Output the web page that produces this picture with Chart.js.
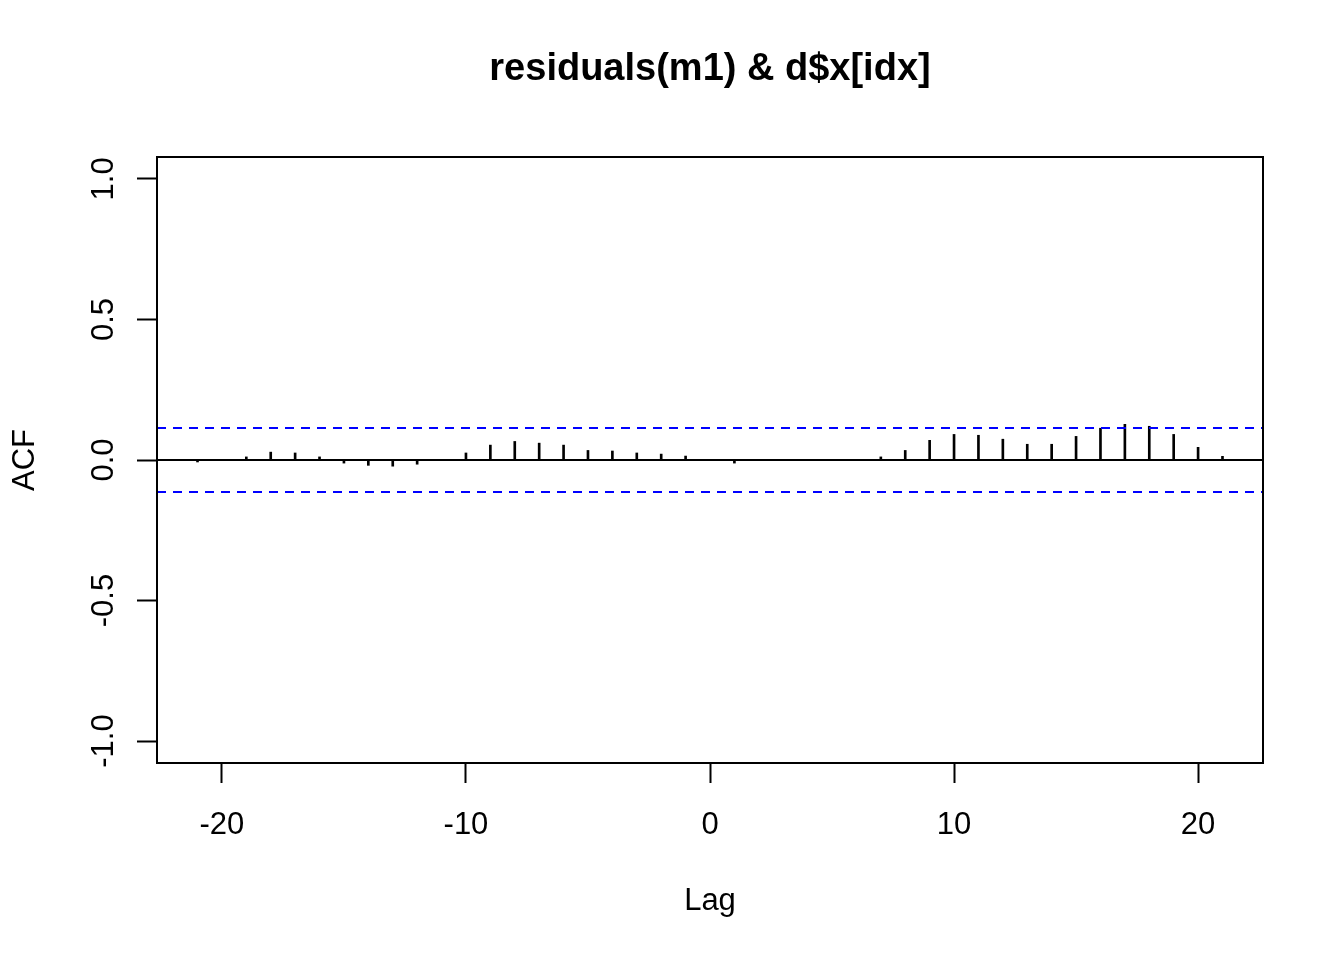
<!DOCTYPE html>
<html>
<head>
<meta charset="utf-8">
<script src="https://cdn.jsdelivr.net/npm/chart.js@4/dist/chart.umd.min.js"></script>
<style>
  html, body { margin: 0; padding: 0; background: #fff; }
  #wrap { width: 1344px; height: 960px; }
</style>
</head>
<body>
<div id="wrap"><canvas id="chart" width="1344" height="960"></canvas></div>
<script>
const lags = [-21, -20, -19, -18, -17, -16, -15, -14, -13, -12, -11, -10, -9, -8, -7, -6, -5, -4, -3, -2, -1,
  0, 1, 2, 3, 4, 5, 6, 7, 8, 9, 10, 11, 12, 13, 14, 15, 16, 17, 18, 19, 20, 21];
const acf = [-0.007, 0.000, 0.011, 0.028, 0.025, 0.011, -0.011, -0.019, -0.022, -0.015, 0.000, 0.025, 0.053,
  0.066, 0.060, 0.053, 0.034, 0.032, 0.025, 0.021, 0.014,
  0.000, -0.011, 0.000, 0.000, 0.000, 0.000, 0.000, 0.011, 0.034, 0.070, 0.091, 0.088, 0.074, 0.056,
  0.056, 0.084, 0.113, 0.127, 0.120, 0.091, 0.045, 0.013];
const ciLevel = 0.1135;
const xTicks = [-20, -10, 0, 10, 20];
const yTicks = [-1, -0.5, 0, 0.5, 1];
const yTickLabels = ['-1.0', '-0.5', '0.0', '0.5', '1.0'];
const xLimits = [-22.66, 22.66];
const yLimits = [-1.078, 1.078];

const fontFamily = "'Liberation Sans', Arial, sans-serif";

const bars = lags.map((lag, i) => ({ x: lag, y: acf[i] }));
const hline = (v) => xLimits.map(x => ({ x: x, y: v }));

const rPlotStyle = {
  id: 'rPlotStyle',
  afterDraw(chart) {
    const ctx = chart.ctx;
    const area = chart.chartArea;
    const yScale = chart.scales.y;
    ctx.save();
    // box around the plot region
    ctx.strokeStyle = '#000';
    ctx.lineWidth = 2;
    ctx.strokeRect(area.left, area.top, area.right - area.left, area.bottom - area.top);
    // rotated y tick labels
    ctx.fillStyle = '#000';
    ctx.font = '31px ' + fontFamily;
    ctx.textAlign = 'center';
    ctx.textBaseline = 'alphabetic';
    yTicks.forEach((v, i) => {
      const py = yScale.getPixelForValue(v);
      ctx.save();
      ctx.translate(113, py);
      ctx.rotate(-Math.PI / 2);
      ctx.fillText(yTickLabels[i], 0, 0);
      ctx.restore();
    });
    ctx.restore();
  }
};

const config = {
  type: 'bar',
  data: {
    datasets: [
      {
        type: 'bar',
        label: 'ACF',
        data: bars,
        backgroundColor: '#000',
        barThickness: 2,
        order: 3,
      },
      {
        type: 'line',
        label: 'zero',
        data: hline(0),
        borderColor: '#000',
        borderWidth: 2,
        pointRadius: 0,
        order: 2,
      },
      {
        type: 'line',
        label: 'upper',
        data: hline(ciLevel),
        borderColor: '#0000ff',
        borderWidth: 2,
        borderDash: [9, 7],
        pointRadius: 0,
        order: 1,
      },
      {
        type: 'line',
        label: 'lower',
        data: hline(-ciLevel),
        borderColor: '#0000ff',
        borderWidth: 2,
        borderDash: [9, 7],
        pointRadius: 0,
        order: 1,
      },
    ],
  },
  options: {
    responsive: false,
    animation: false,
    layout: { padding: { left: 0, right: 81, top: 0, bottom: 0 } },
    plugins: {
      legend: { display: false },
      tooltip: { enabled: false },
      title: {
        display: true,
        text: 'residuals(m1) & d$x[idx]',
        fullSize: false,
        color: '#000',
        font: { family: fontFamily, size: 38, weight: 'bold', lineHeight: 1 },
        padding: { top: 51, bottom: 68 },
      },
    },
    scales: {
      x: {
        type: 'linear',
        min: xLimits[0],
        max: xLimits[1],
        offset: false,
        afterBuildTicks: (scale) => { scale.ticks = xTicks.map(v => ({ value: v })); },
        afterFit: (scale) => { scale.height = 197; },
        grid: {
          display: true,
          offset: false,
          drawOnChartArea: false,
          drawTicks: true,
          tickLength: 20,
          tickWidth: 2,
          tickColor: '#000',
        },
        border: { display: true, color: '#000', width: 2 },
        ticks: {
          color: '#000',
          padding: 24,
          maxRotation: 0,
          font: { family: fontFamily, size: 31 },
        },
        title: {
          display: true,
          text: 'Lag',
          color: '#000',
          font: { family: fontFamily, size: 31 },
          padding: { top: 0, bottom: 40 },
        },
      },
      y: {
        type: 'linear',
        min: yLimits[0],
        max: yLimits[1],
        afterBuildTicks: (scale) => { scale.ticks = yTicks.map(v => ({ value: v })); },
        afterFit: (scale) => { scale.width = 157; },
        grid: {
          display: true,
          offset: false,
          drawOnChartArea: false,
          drawTicks: true,
          tickLength: 20,
          tickWidth: 2,
          tickColor: '#000',
        },
        border: { display: true, color: '#000', width: 2 },
        ticks: { display: false },
        title: {
          display: true,
          text: 'ACF',
          color: '#000',
          font: { family: fontFamily, size: 31 },
          padding: { top: 7, bottom: 0 },
        },
      },
    },
  },
  plugins: [rPlotStyle],
};

const myChart = new Chart(document.getElementById('chart'), config);
</script>
</body>
</html>
